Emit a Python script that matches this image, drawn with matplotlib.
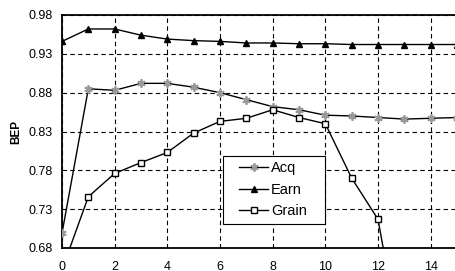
import numpy as np
import matplotlib.pyplot as plt
from matplotlib.patches import Rectangle

plt.rcParams['font.family'] = ['Liberation Sans', 'DejaVu Sans']

x = list(range(16))
acq = [0.699, 0.885, 0.883, 0.892, 0.892, 0.887, 0.880, 0.871, 0.862, 0.858,
       0.851, 0.850, 0.848, 0.846, 0.847, 0.848]
earn = [0.946, 0.962, 0.962, 0.954, 0.949, 0.947, 0.946, 0.944, 0.944, 0.943,
        0.943, 0.942, 0.942, 0.942, 0.942, 0.942]
grain_x = list(range(14))
grain = [0.652, 0.746, 0.776, 0.790, 0.803, 0.828, 0.843, 0.847, 0.858, 0.848,
         0.840, 0.770, 0.717, 0.530]
yticks = [0.68, 0.73, 0.78, 0.83, 0.88, 0.93, 0.98]
xticks = [0, 2, 4, 6, 8, 10, 12, 14]

fig = plt.figure(figsize=(4.56, 2.71), dpi=100)
ax = fig.add_axes([62 / 456, 23 / 271, 395 / 456, 233 / 271])

ax.plot(x, acq, color='black', lw=1, marker=(6, 2, 0), ms=6,
        markeredgecolor='#999999', markeredgewidth=1.3, label='Acq', zorder=3)
ax.plot(x, earn, color='black', lw=1, marker='^', ms=5,
        markerfacecolor='black', label='Earn', zorder=3)
ax.plot(grain_x, grain, color='black', lw=1, marker='s', ms=4.5,
        markerfacecolor='white', markeredgecolor='black', markeredgewidth=1,
        label='Grain', zorder=3)

ax.set_xlim(0, 15)
ax.set_ylim(0.68, 0.98)
ax.set_xticks(xticks)
ax.set_yticks(yticks)
ax.set_yticklabels(['%.2f' % v for v in yticks])
ax.tick_params(axis='y', length=0, labelsize=9, pad=7)
ax.tick_params(axis='x', length=0, labelsize=9, pad=9)
ax.grid(True, color='black', linestyle=(0, (4, 3)), lw=0.8)
for s in ['left', 'bottom', 'top']:
    ax.spines[s].set_linewidth(1.3)
ax.spines['right'].set_visible(False)
ax.set_ylabel('BEP', fontsize=8.5, fontweight='bold', labelpad=4)

# legend box
ax.add_patch(Rectangle((0.408, 0.103), 0.258, 0.292, transform=ax.transAxes,
                       facecolor='white', edgecolor='black', lw=0.8, zorder=4))
leg = ax.legend(loc='upper left', bbox_to_anchor=(0.448, 0.372),
                fontsize=10.5, frameon=False, borderaxespad=0, borderpad=0,
                handlelength=2.0, handletextpad=0.2, labelspacing=0.5)
leg.set_zorder(5)

fig.savefig('out.png', dpi=100)
